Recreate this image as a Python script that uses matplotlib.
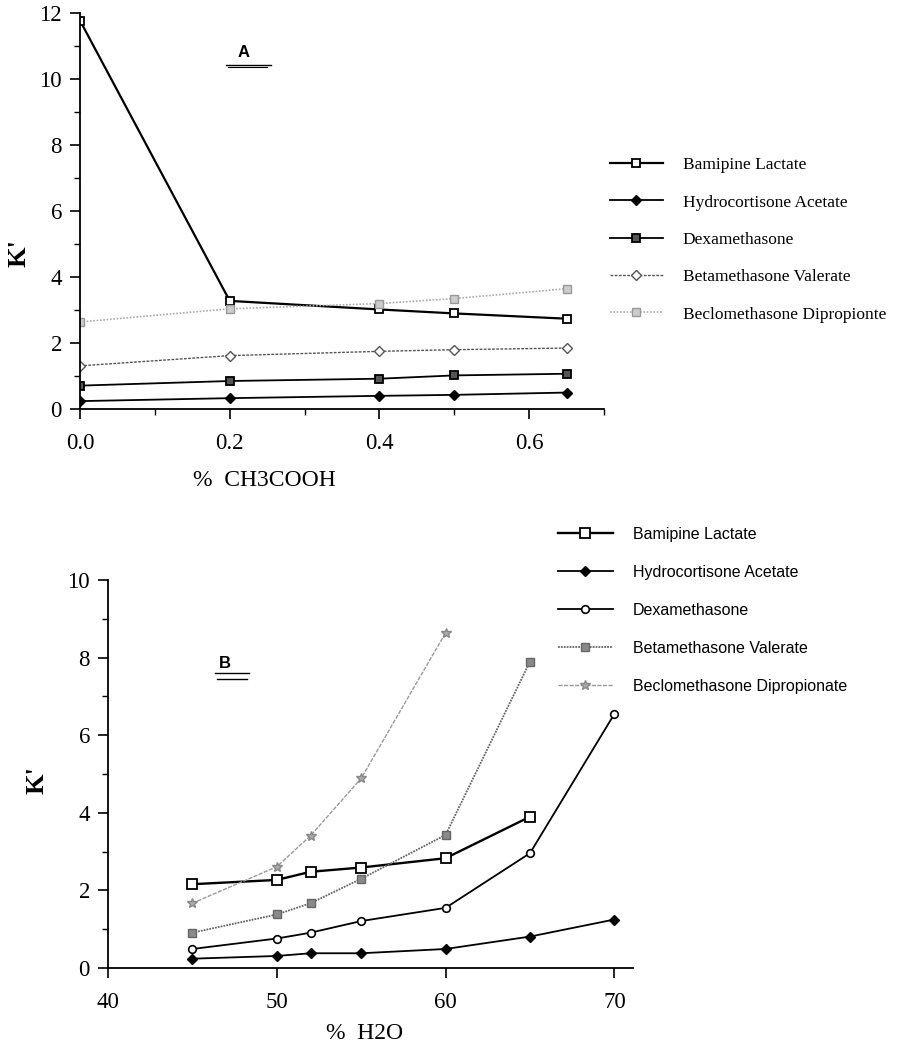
import numpy as np
import matplotlib
matplotlib.use("Agg")
import matplotlib.pyplot as plt
from matplotlib.ticker import MultipleLocator, FormatStrFormatter

# Panel A data: K' vs % CH3COOH
acid = [0.0, 0.2, 0.4, 0.5, 0.65]
a_bamipine = [11.78, 3.28, 3.02, 2.90, 2.74]
a_hydrocortisone = [0.24, 0.33, 0.40, 0.43, 0.50]
a_dexamethasone = [0.71, 0.85, 0.92, 1.02, 1.07]
a_betamethasone = [1.31, 1.62, 1.75, 1.80, 1.85]
a_beclomethasone = [2.64, 3.04, 3.20, 3.35, 3.65]
a_labels = ["Bamipine Lactate", "Hydrocortisone Acetate", "Dexamethasone",
            "Betamethasone Valerate", "Beclomethasone Dipropionte"]

# Panel B data: K' vs % H2O
water = [45, 50, 52, 55, 60, 65, 70]
b_bamipine = [2.16, 2.27, 2.48, 2.59, 2.83, 3.90]
b_hydrocortisone = [0.24, 0.31, 0.38, 0.38, 0.49, 0.81, 1.25]
b_dexamethasone = [0.49, 0.76, 0.91, 1.21, 1.55, 2.96, 6.55]
b_betamethasone = [0.91, 1.38, 1.67, 2.30, 3.43, 7.90]
b_beclomethasone = [1.67, 2.61, 3.41, 4.89, 8.64]
b_labels = ["Bamipine Lactate", "Hydrocortisone Acetate", "Dexamethasone",
            "Betamethasone Valerate", "Beclomethasone Dipropionate"]

SERIF = "Liberation Serif"
SANS = "Liberation Sans"


def style_axes(ax):
	for side in ["top", "right"]:
		ax.spines[side].set_visible(False)
	for side in ["left", "bottom"]:
		ax.spines[side].set_linewidth(1.3)
	ax.tick_params(which="major", length=7, width=1.2, direction="out", pad=6,
	               labelsize=16.5)
	ax.tick_params(which="minor", length=4, width=1.0, direction="out")
	ax.tick_params(axis="x", which="major", pad=10)
	for lab in ax.get_xticklabels() + ax.get_yticklabels():
		lab.set_fontfamily(SERIF)


fig = plt.figure(figsize=(8.99, 10.44), dpi=100)

# ---------------- Panel A ----------------
ax1 = fig.add_axes([0.0890, 0.6082, 0.5829, 0.3790])
ax1.plot(acid, a_bamipine, color="black", lw=1.6, marker="s", ms=6,
         mfc="white", mec="black", mew=1.3, label=a_labels[0])
ax1.plot(acid, a_hydrocortisone, color="black", lw=1.3, marker="D", ms=5,
         mfc="black", mec="black", label=a_labels[1])
ax1.plot(acid, a_dexamethasone, color="black", lw=1.3, marker="s", ms=6,
         mfc="#555555", mec="black", mew=1.3, label=a_labels[2])
ax1.plot(acid, a_betamethasone, color="#555555", lw=1.0, ls=(0, (2, 1)),
         marker="D", ms=5, mfc="white", mec="#555555", label=a_labels[3])
ax1.plot(acid, a_beclomethasone, color="#aaaaaa", lw=1.2, ls=(0, (1, 1)),
         marker="s", ms=6, mfc="#cccccc", mec="#999999", label=a_labels[4])

ax1.set_xlim(0, 0.7)
ax1.set_ylim(0, 12)
ax1.xaxis.set_major_locator(MultipleLocator(0.2))
ax1.xaxis.set_minor_locator(MultipleLocator(0.1))
ax1.xaxis.set_major_formatter(FormatStrFormatter("%.1f"))
ax1.yaxis.set_major_locator(MultipleLocator(2))
ax1.yaxis.set_minor_locator(MultipleLocator(1))
style_axes(ax1)
ax1.set_xlabel("%  CH3COOH", fontfamily=SERIF, fontsize=17)
ax1.xaxis.set_label_coords(0.351, -0.154)
ax1.set_ylabel("K'", fontfamily=SERIF, fontsize=19, fontweight="bold")
ax1.yaxis.set_label_coords(-0.095, 0.394)

ax1.text(0.218, 10.8, "A", fontfamily=SANS, fontsize=12, fontweight="bold",
         ha="center", va="center")
ax1.plot([0.195, 0.255], [10.42, 10.42], color="black", lw=1.0)
ax1.plot([0.198, 0.250], [10.36, 10.36], color="black", lw=0.8)

fig.legend(handles=ax1.get_lines()[:5], loc="upper left",
           bbox_to_anchor=(0.6785, 0.8496), frameon=False, borderpad=0,
           borderaxespad=0, handlelength=3.05, handletextpad=1.15,
           labelspacing=1.22, prop={"family": SERIF, "size": 12.5})

# ---------------- Panel B ----------------
ax2 = fig.add_axes([0.1201, 0.0728, 0.5840, 0.3716])
ax2.plot(water[:6], b_bamipine, color="black", lw=1.7, marker="s", ms=6.5,
         mfc="white", mec="black", mew=1.3, label=b_labels[0])
ax2.plot(water, b_hydrocortisone, color="black", lw=1.3, marker="D", ms=5,
         mfc="black", mec="black", label=b_labels[1])
ax2.plot(water, b_dexamethasone, color="black", lw=1.3, marker="o", ms=5.5,
         mfc="white", mec="black", mew=1.2, label=b_labels[2])
ax2.plot(water[:6], b_betamethasone, color="#666666", lw=1.3, ls=(0, (1, 0.6)),
         marker="s", ms=6, mfc="#8a8a8a", mec="#666666", label=b_labels[3])
ax2.plot(water[:5], b_beclomethasone, color="#9a9a9a", lw=1.0, ls=(0, (3, 1)),
         marker="*", ms=7, mfc="#aaaaaa", mec="#888888", label=b_labels[4])

ax2.set_xlim(40, 71.1)
ax2.set_ylim(0, 10)
ax2.xaxis.set_major_locator(MultipleLocator(10))
ax2.yaxis.set_major_locator(MultipleLocator(2))
ax2.yaxis.set_minor_locator(MultipleLocator(1))
style_axes(ax2)
ax2.set_xlabel("%  H2O", fontfamily=SERIF, fontsize=17)
ax2.xaxis.set_label_coords(0.488, -0.142)
ax2.set_ylabel("K'", fontfamily=SERIF, fontsize=19, fontweight="bold")
ax2.yaxis.set_label_coords(-0.114, 0.485)

ax2.text(46.94, 7.86, "B", fontfamily=SANS, fontsize=12, fontweight="bold",
         ha="center", va="center")
ax2.plot([46.35, 48.36], [7.60, 7.60], color="black", lw=1.0)
ax2.plot([46.45, 48.25], [7.45, 7.45], color="black", lw=1.0)

fig.legend(handles=ax2.get_lines()[:5], loc="upper left",
           bbox_to_anchor=(0.6207, 0.4952), frameon=False, borderpad=0,
           borderaxespad=0, handlelength=3.44, handletextpad=1.25,
           labelspacing=1.44, prop={"family": SANS, "size": 11.5})

fig.savefig("out.png", dpi=100)
